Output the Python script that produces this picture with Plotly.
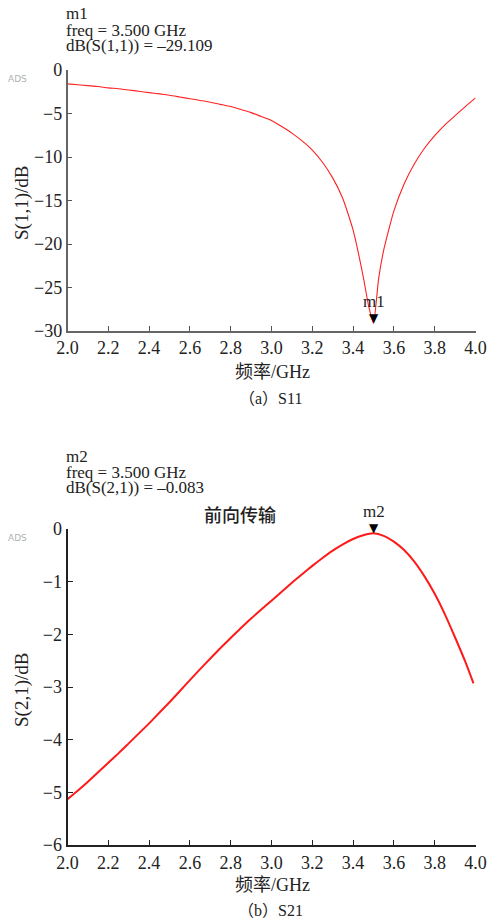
import plotly.graph_objects as go

# S11 (return loss) sweep, GHz / dB
s11_freq = [2.0, 2.05, 2.1, 2.15, 2.2, 2.25, 2.3, 2.35, 2.4, 2.45, 2.5, 2.55, 2.6,
            2.65, 2.7, 2.75, 2.8, 2.85, 2.9, 2.95, 3.0, 3.05, 3.1, 3.15, 3.2, 3.25,
            3.3, 3.35, 3.4, 3.45, 3.475, 3.5, 3.525, 3.55, 3.6, 3.65, 3.7, 3.75,
            3.8, 3.85, 3.9, 3.95, 4.0]
s11_db = [-1.6, -1.7, -1.8, -1.9, -2.05, -2.15, -2.3, -2.45, -2.6, -2.75, -2.9,
          -3.1, -3.3, -3.5, -3.7, -3.95, -4.2, -4.55, -4.9, -5.35, -5.8, -6.5,
          -7.25, -8.15, -9.2, -10.6, -12.4, -14.8, -18.4, -23.8, -27.0, -29.109,
          -24.0, -20.7, -16.2, -13.1, -10.8, -9.0, -7.55, -6.3, -5.25, -4.2, -3.2]

# S21 (forward transmission) sweep, GHz / dB
s21_freq = [2.0, 2.05, 2.1, 2.15, 2.2, 2.25, 2.3, 2.35, 2.4, 2.45, 2.5, 2.55, 2.6,
            2.65, 2.7, 2.75, 2.8, 2.85, 2.9, 2.95, 3.0, 3.05, 3.1, 3.15, 3.2, 3.25,
            3.3, 3.35, 3.4, 3.45, 3.5, 3.55, 3.6, 3.65, 3.7, 3.75, 3.8, 3.85, 3.9,
            3.95, 3.99]
s21_db = [-5.13, -4.97, -4.80, -4.62, -4.44, -4.26, -4.07, -3.88, -3.69, -3.49,
          -3.29, -3.08, -2.87, -2.66, -2.46, -2.26, -2.07, -1.88, -1.70, -1.53,
          -1.36, -1.19, -1.02, -0.86, -0.70, -0.55, -0.41, -0.29, -0.19, -0.12,
          -0.083, -0.13, -0.24, -0.40, -0.62, -0.90, -1.23, -1.62, -2.06, -2.52,
          -2.93]

# marker readouts
m1_freq, m1_val = 3.5, -29.109
m2_freq, m2_val = 3.5, -0.083

x_ticks = [2.0, 2.2, 2.4, 2.6, 2.8, 3.0, 3.2, 3.4, 3.6, 3.8, 4.0]
y1_ticks = [0, -5, -10, -15, -20, -25, -30]
y2_ticks = [0, -1, -2, -3, -4, -5, -6]

W, H = 490, 919
SERIF = "Liberation Serif"
MIXED = "Liberation Serif, Noto Sans CJK SC"
CJK = "Noto Sans CJK SC"


def py(y):
    return 1 - y / H


def px(x):
    return x / W


fig = go.Figure()
fig.add_trace(go.Scatter(x=s11_freq, y=s11_db, mode="lines", xaxis="x", yaxis="y",
                         line=dict(color="#ff2020", width=1.1, shape="spline", smoothing=0.5),
                         showlegend=False))
fig.add_trace(go.Scatter(x=s21_freq, y=s21_db, mode="lines", xaxis="x2", yaxis="y2",
                         line=dict(color="#ff1a1a", width=2, shape="spline", smoothing=0.5),
                         showlegend=False))

xdom = [px(67.5), px(475.5)]
tickfont = dict(family=SERIF, size=18, color="#222")

common_x = dict(range=[2.0, 4.0], tickvals=x_ticks, ticktext=[f"{v:.1f}" for v in x_ticks],
                ticks="inside", ticklen=5, showgrid=False, zeroline=False, showline=True,
                tickfont=tickfont, domain=xdom, automargin=False)
common_y = dict(ticks="inside", ticklen=5, showgrid=False, zeroline=False, showline=True,
                tickfont=tickfont, automargin=False)

fig.update_layout(
    width=W, height=H, margin=dict(l=0, r=0, t=0, b=0, autoexpand=False),
    paper_bgcolor="white", plot_bgcolor="white",
    xaxis=dict(**common_x, anchor="y", linecolor="#666", linewidth=1.5, tickcolor="#555"),
    yaxis=dict(**common_y, range=[-30, 0], tickvals=y1_ticks, linecolor="#666",
               linewidth=1.5, tickcolor="#555", domain=[py(331), py(70)], anchor="x"),
    xaxis2=dict(**common_x, anchor="y2", linecolor="#222", linewidth=2, tickcolor="#222"),
    yaxis2=dict(**common_y, range=[-6, 0], tickvals=y2_ticks, linecolor="#222",
                linewidth=2, tickcolor="#222", domain=[py(845), py(529)], anchor="x2"),
)

ann = []


def text(x, y, s, size=17, family=SERIF, color="#222", xanchor="left", **kw):
    ann.append(dict(x=px(x), y=py(y), xref="paper", yref="paper", text=s, showarrow=False,
                    xanchor=xanchor, yanchor="middle", borderpad=0,
                    font=dict(family=family, size=size, color=color), **kw))


# marker readout blocks
text(65, 14, "m1")
text(65, 30, "freq = 3.500 GHz")
text(65, 46, f"dB(S(1,1)) = \u2013{abs(m1_val):.3f}")
text(65, 456, "m2")
text(65, 472, "freq = 3.500 GHz")
text(65, 488, f"dB(S(2,1)) = \u2013{abs(m2_val):.3f}")

# ADS stamps
text(7, 79, "ADS", size=9, family="DejaVu Sans", color="#b0b0b0")
text(7, 538, "ADS", size=9, family="DejaVu Sans", color="#b0b0b0")

# plot heading
ann.append(dict(x=px(240), y=py(514), xref="paper", yref="paper", text="前向传输",
                showarrow=False, xanchor="center", yanchor="middle",
                font=dict(family=CJK, size=18, color="#222", weight=500)))

# axis titles
text(272, 372, "频率/GHz", size=18, family=MIXED, xanchor="center")
text(272, 885, "频率/GHz", size=18, family=MIXED, xanchor="center")
text(22, 203, "S(1,1)/dB", size=19, xanchor="center", textangle=-90)
text(22, 690, "S(2,1)/dB", size=19, xanchor="center", textangle=-90)

# captions
text(270, 398, "（a）S11", size=16, family=MIXED, xanchor="center")
text(270, 910, "（b）S21", size=16, family=MIXED, xanchor="center")

# marker glyphs placed on the curves
for xr, yr, fx, fy, name in [("x", "y", m1_freq, m1_val, "m1"), ("x2", "y2", m2_freq, m2_val, "m2")]:
    ann.append(dict(x=fx, y=fy, xref=xr, yref=yr, text="▼", showarrow=False,
                    xanchor="center", yanchor="bottom", yshift=-4,
                    font=dict(family="DejaVu Sans", size=12, color="black")))
    ann.append(dict(x=fx, y=fy, xref=xr, yref=yr, text=name, showarrow=False,
                    xanchor="center", yanchor="bottom", yshift=11, borderpad=0,
                    font=dict(family=SERIF, size=17, color="#222")))

fig.update_layout(annotations=ann)
fig.write_html("out.html")
